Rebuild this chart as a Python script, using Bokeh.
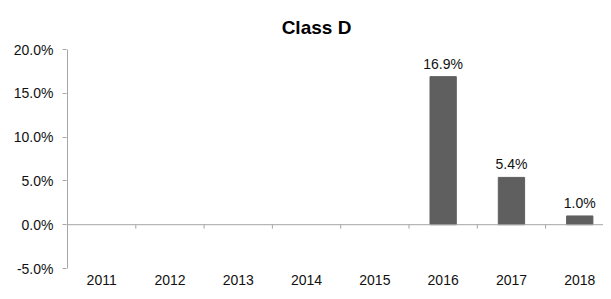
from bokeh.plotting import figure
from bokeh.models import Range1d, FixedTicker, Span, ColumnDataSource, Label
from bokeh.core.properties import value
from bokeh.embed import file_html
from bokeh.resources import INLINE

# ---- data ----
years = ["2011", "2012", "2013", "2014", "2015", "2016", "2017", "2018"]
growth = [None, None, None, None, None, 16.9, 5.4, 1.0]
y_ticks = [-5, 0, 5, 10, 15, 20]
y_tick_labels = ["-5.0%", "0.0%", "5.0%", "10.0%", "15.0%", "20.0%"]
title_text = "Class D"

FONT = "Liberation Sans"
AXIS_GRAY = "#a6a6a6"
BAR_COLOR = "#5f5f5f"
TEXT_COLOR = "#111111"

# layout (pixels)
W, H = 603, 291
FRAME_LEFT = 66
TOP_TICK_PX = 49          # pixel row of the highest y tick
SLOT_PX = 68.3
PX_PER_UNIT = 219.0 / (y_ticks[-1] - y_ticks[0])

x_start = -1 / SLOT_PX
x_end = x_start + (W - FRAME_LEFT) / SLOT_PX
y_end = y_ticks[-1] + TOP_TICK_PX / PX_PER_UNIT
y_start = y_end - H / PX_PER_UNIT

p = figure(width=W, height=H, output_backend="svg", toolbar_location=None,
           x_range=Range1d(x_start, x_end), y_range=Range1d(y_start, y_end),
           min_border_left=FRAME_LEFT, min_border_right=0, min_border_top=0,
           min_border_bottom=0)

# chart title
p.add_layout(Label(x=316, y=27, x_units="canvas", y_units="canvas", text=title_text,
                   text_align="center", text_baseline="alphabetic", text_font=FONT,
                   text_font_size="19px", text_font_style="bold", text_color="#000000"))

p.outline_line_color = None
p.xgrid.grid_line_color = None
p.ygrid.grid_line_color = None
p.background_fill_color = "white"
p.border_fill_color = "white"
p.xaxis.visible = False

# y axis (ticks + labels from the axis; its line drawn only over the tick span)
p.yaxis.ticker = FixedTicker(ticks=y_ticks)
p.yaxis.major_label_overrides = {t: l for t, l in zip(y_ticks, y_tick_labels)}
p.yaxis.axis_line_color = None
p.yaxis.major_tick_line_color = AXIS_GRAY
p.yaxis.major_tick_out = 4
p.yaxis.major_tick_in = 0
p.yaxis.minor_tick_line_color = None
p.yaxis.major_label_text_font = FONT
p.yaxis.major_label_text_font_size = "14px"
p.yaxis.major_label_text_color = TEXT_COLOR
p.yaxis.major_label_standoff = 9
p.segment(x0=[0], y0=[y_ticks[0]], x1=[0], y1=[y_ticks[-1]],
          line_color=AXIS_GRAY, line_width=1)

# zero line with category boundary ticks
p.add_layout(Span(location=0, dimension="width", line_color=AXIS_GRAY, line_width=1))
bounds = [i + 1 for i in range(len(years))]
tick_len = 4 / PX_PER_UNIT
p.segment(x0=bounds, y0=[0] * len(bounds), x1=bounds, y1=[-tick_len] * len(bounds),
          line_color=AXIS_GRAY, line_width=1)

# category labels under the axis
centers = [i + 0.5 for i in range(len(years))]
p.text(x=centers, y=[y_ticks[0]] * len(centers), text=years, text_align="center",
       text_baseline="top", y_offset=6, text_font=value(FONT),
       text_font_size="14px", text_color=TEXT_COLOR)

# bars
bx = [c for c, v in zip(centers, growth) if v is not None]
bv = [v for v in growth if v is not None]
src = ColumnDataSource(dict(x=bx, top=bv, label=[f"{v:.1f}%" for v in bv]))
p.vbar(x="x", top="top", bottom=0, width=0.385, source=src,
       fill_color=BAR_COLOR, line_color=BAR_COLOR)
p.text(x="x", y="top", text="label", source=src, text_align="center",
       text_baseline="alphabetic", y_offset=-13, text_font=value(FONT),
       text_font_size="14px", text_color=TEXT_COLOR)

open("out.html", "w").write(file_html(p, INLINE))
